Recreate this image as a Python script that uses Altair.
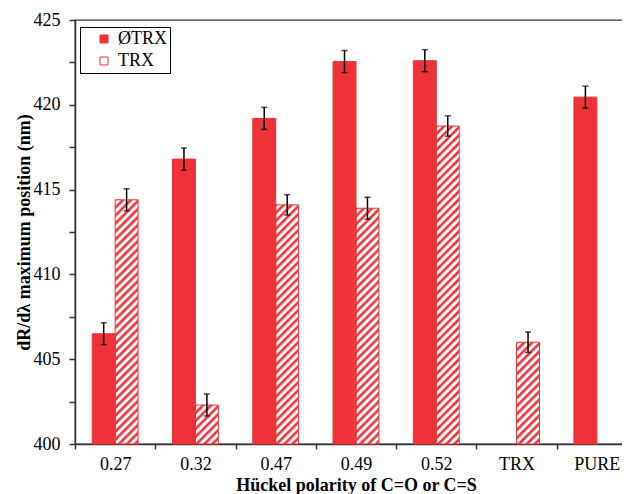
import altair as alt
import pandas as pd
from urllib.parse import quote

# ---- data ----
categories = ["0.27", "0.32", "0.47", "0.49", "0.52", "TRX", "PURE"]
series_names = ["ØTRX", "TRX"]
notrx_values = [406.5, 416.8, 419.2, 422.55, 422.6, None, 420.45]
notrx_errors = [0.65, 0.65, 0.65, 0.65, 0.65, None, 0.65]
trx_values = [414.4, 402.3, 414.1, 413.9, 418.75, 406.0, None]
trx_errors = [0.65, 0.65, 0.6, 0.65, 0.6, 0.6, None]
y_tick_values = [400, 402.5, 405, 407.5, 410, 412.5, 415, 417.5, 420, 422.5, 425]
y_domain = [400, 425]

rows = []
for name, vals, errs in [(series_names[0], notrx_values, notrx_errors),
                         (series_names[1], trx_values, trx_errors)]:
    for cat, v, e in zip(categories, vals, errs):
        if v is None:
            continue
        rows.append({"cat": cat, "series": name, "value": v, "lo": v - e, "hi": v + e})
df = pd.DataFrame(rows)

RED = "#EE3237"
FONT = "Liberation Serif"

# hatch fill for the TRX bars (diagonal red / white stripes)
hatch_svg = (
    "<svg xmlns='http://www.w3.org/2000/svg' width='100%' height='100%'>"
    "<defs><pattern id='h' patternUnits='userSpaceOnUse' width='8' height='8'>"
    "<rect width='8' height='8' fill='white'/>"
    "<path d='M-4,4 L4,-4 M0,8 L8,0 M4,12 L12,4' stroke='" + RED + "' stroke-width='2.6'/>"
    "</pattern></defs><rect width='100%' height='100%' fill='url(#h)'/></svg>"
)
hatch_uri = "data:image/svg+xml;charset=utf-8," + quote(hatch_svg)

x_enc = alt.X(
    "cat:N",
    scale=alt.Scale(domain=categories, paddingInner=0, paddingOuter=0),
    axis=alt.Axis(title="Hückel polarity of C=O or C=S", labelAngle=0,
                  tickBand="extent", tickSize=5, labelPadding=6, titlePadding=3),
)
xoff_enc = alt.XOffset("series:N",
                       scale=alt.Scale(domain=series_names, paddingInner=0, paddingOuter=0.75))
y_scale = alt.Scale(domain=y_domain, zero=False, nice=False)
y_axis = alt.Axis(values=y_tick_values, grid=False, tickSize=6, labelPadding=9,
                  labelExpr="datum.value % 5 == 0 ? datum.label : ''",
                  title="dR/dλ maximum position (nm)", titlePadding=0)

base = alt.Chart(df)

hatch = base.transform_filter(alt.datum.series == "TRX").mark_image(aspect=False).encode(
    x=x_enc, xOffset=xoff_enc,
    y=alt.Y("value:Q", scale=y_scale, axis=y_axis),
    y2=alt.datum(y_domain[0]),
    url=alt.value(hatch_uri),
)

bars = base.mark_bar(strokeWidth=1).encode(
    x=x_enc, xOffset=xoff_enc,
    y=alt.Y("value:Q", scale=y_scale, axis=y_axis),
    y2=alt.datum(y_domain[0]),
    fill=alt.Fill("series:N", scale=alt.Scale(domain=series_names, range=[RED, "transparent"]),
                  legend=alt.Legend(title=None, orient="none", legendX=5, legendY=7,
                                    labelExpr="datum.label + '  '")),
    stroke=alt.Stroke("series:N", scale=alt.Scale(domain=series_names, range=[RED, RED]),
                      legend=None),
)

err_rule = base.mark_rule(color="black", strokeWidth=1.5).encode(
    x=x_enc, xOffset=xoff_enc,
    y=alt.Y("lo:Q", scale=y_scale, axis=y_axis),
    y2="hi:Q",
)
cap_lo = base.mark_tick(color="black", thickness=1.5, size=6).encode(
    x=x_enc, xOffset=xoff_enc, y=alt.Y("lo:Q", scale=y_scale, axis=y_axis))
cap_hi = base.mark_tick(color="black", thickness=1.5, size=6).encode(
    x=x_enc, xOffset=xoff_enc, y=alt.Y("hi:Q", scale=y_scale, axis=y_axis))

chart = alt.layer(hatch, bars, err_rule, cap_lo, cap_hi).properties(
    width=562, height=424,
    autosize=alt.AutoSizeParams(type="none"),
    padding={"left": 67, "top": 12, "right": -15, "bottom": 50},
    background="white",
).configure_axis(
    labelFont=FONT, labelFontSize=18, labelColor="black",
    titleFont=FONT, titleFontSize=18, titleFontWeight="bold", titleColor="black",
    domainColor="#333333", tickColor="#333333", domainWidth=1.5, tickWidth=1.5,
).configure_view(
    stroke="#333333", strokeWidth=1.3,
).configure_legend(
    strokeColor="black", fillColor="white", padding=3,
    symbolType="square", symbolSize=64, symbolOffset=12,
    symbolStrokeColor=RED, symbolStrokeWidth=1,
    labelFont=FONT, labelFontSize=18, labelColor="black", labelOffset=5,
    rowPadding=4,
)

chart.save("out.html", embed_options={"renderer": "svg", "actions": False})
